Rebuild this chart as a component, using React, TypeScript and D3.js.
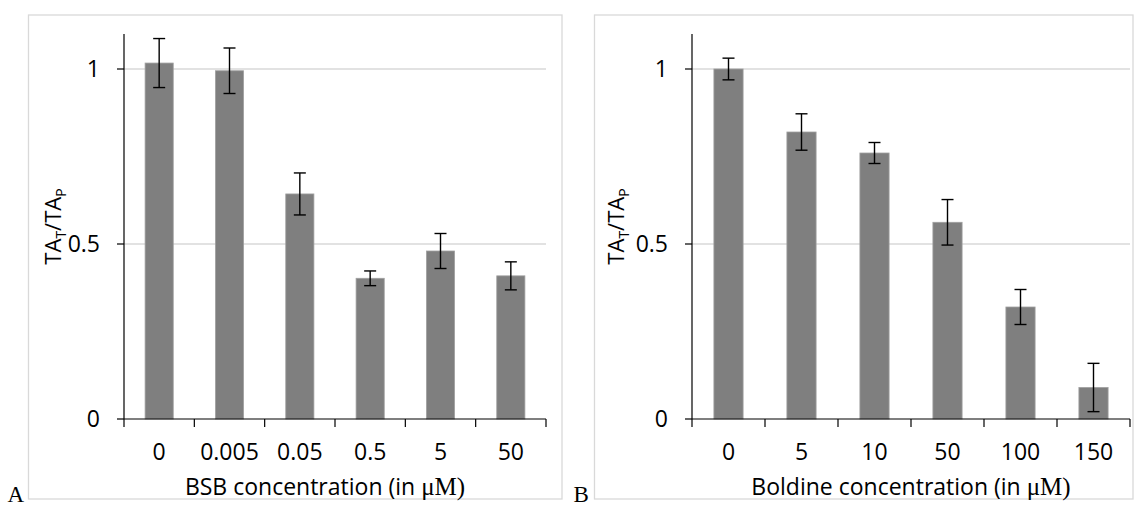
import React from "react";
import * as d3 from "d3";

const catsA = ["0", "0.005", "0.05", "0.5", "5", "50"];
const valsA = [1.017, 0.995, 0.643, 0.402, 0.48, 0.409];
const errA = [0.07, 0.065, 0.06, 0.021, 0.05, 0.04];

const catsB = ["0", "5", "10", "50", "100", "150"];
const valsB = [1.0, 0.82, 0.76, 0.562, 0.32, 0.09];
const errB = [0.031, 0.052, 0.03, 0.065, 0.05, 0.069];

const yTicks = [0, 0.5, 1];
const yTickLabels = ["0", "0.5", "1"];

const FONT = "'Open Sans', sans-serif";
const SERIF = "'Liberation Serif', 'DejaVu Serif', serif";

type PanelProps = {
  cats: string[];
  vals: number[];
  errs: number[];
  frame: [number, number, number, number];
  axisX: number;
  axisRight: number;
  titleMain: string;
  titleX: number;
  yTitleX: number;
  letter: string;
};

function Panel({ cats, vals, errs, frame, axisX, axisRight, titleMain, titleX, yTitleX, letter }: PanelProps) {
  const y = d3.scaleLinear().domain([0, 1.1]).range([419, 34]);
  const x = d3.scaleBand<string>().domain(cats).range([axisX, axisRight]).padding(0);
  const bw = x.bandwidth();
  const barW = bw * 0.4;
  const [fx0, fy0, fx1, fy1] = frame;
  const midY = (y(0) + y(1.1)) / 2;
  const boundaries = cats.map((c) => x(c)!).concat([axisRight]);
  return (
    <g>
      <rect x={fx0} y={fy0} width={fx1 - fx0} height={fy1 - fy0} fill="white" stroke="#d9d9d9" strokeWidth={1.3} />
      {yTicks.slice(1).map((t) => (
        <line key={t} x1={axisX} x2={axisRight} y1={y(t)} y2={y(t)} stroke="#d9d9d9" strokeWidth={1.3} />
      ))}
      {cats.map((c, i) => (
        <rect key={c} x={x(c)! + (bw - barW) / 2} y={y(vals[i])} width={barW} height={y(0) - y(vals[i])} fill="#7f7f7f" stroke="#a0a0a0" strokeWidth={0.8} />
      ))}
      {cats.map((c, i) => {
        const cx = x(c)! + bw / 2;
        const hi = y(vals[i] + errs[i]);
        const lo = y(vals[i] - errs[i]);
        return (
          <g key={"e" + c} stroke="#000" strokeWidth={1.4}>
            <line x1={cx} x2={cx} y1={hi} y2={lo} />
            <line x1={cx - 6} x2={cx + 6} y1={hi} y2={hi} />
            <line x1={cx - 6} x2={cx + 6} y1={lo} y2={lo} />
          </g>
        );
      })}
      <line x1={axisX} x2={axisX} y1={y(1.1)} y2={y(0)} stroke="#000" strokeWidth={1.2} />
      <line x1={axisX} x2={axisRight} y1={y(0)} y2={y(0)} stroke="#000" strokeWidth={1.2} />
      {yTicks.map((t, i) => (
        <g key={"yt" + t}>
          <line x1={axisX - 7} x2={axisX} y1={y(t)} y2={y(t)} stroke="#000" strokeWidth={1.2} />
          <text x={axisX - 24} y={y(t)} dy="0.36em" textAnchor="end" fontFamily={FONT} fontSize={23} fill="#000">
            {yTickLabels[i]}
          </text>
        </g>
      ))}
      {boundaries.map((b, i) => (
        <line key={"xt" + i} x1={b} x2={b} y1={y(0)} y2={y(0) + 8} stroke="#000" strokeWidth={1.2} />
      ))}
      {cats.map((c) => (
        <text key={"xl" + c} x={x(c)! + bw / 2} y={460} textAnchor="middle" fontFamily={FONT} fontSize={23} fill="#000">
          {c}
        </text>
      ))}
      <text x={titleX} y={495} textAnchor="middle" fontFamily={FONT} fontSize={23} fill="#000">
        {titleMain}
        <tspan fontFamily={SERIF} fontSize={25}>μM)</tspan>
      </text>
      <text transform={`translate(${yTitleX},${midY}) rotate(-90)`} textAnchor="middle" fontFamily={FONT} fontSize={22} fill="#000">
        TA<tspan fontSize={14} dy={5}>T</tspan>
        <tspan dy={-5}>/TA</tspan>
        <tspan fontSize={14} dy={5}>P</tspan>
      </text>
      <text x={fx0 - 21} y={502} fontFamily={SERIF} fontSize={23} fill="#000">
        {letter}
      </text>
    </g>
  );
}

export default function App() {
  return (
    <svg width={1135} height={506} style={{ position: "absolute", left: 0, top: 0, background: "#fff" }}>
      <rect x={0} y={0} width={1135} height={506} fill="#fff" />
      <Panel cats={catsA} vals={valsA} errs={errA} frame={[28.5, 15, 562, 499]} axisX={124} axisRight={546} titleMain="BSB concentration (in " titleX={325} yTitleX={61} letter="A" />
      <Panel cats={catsB} vals={valsB} errs={errB} frame={[594.5, 15, 1133, 499]} axisX={692} axisRight={1130} titleMain="Boldine concentration (in " titleX={911} yTitleX={624} letter="B" />
    </svg>
  );
}
